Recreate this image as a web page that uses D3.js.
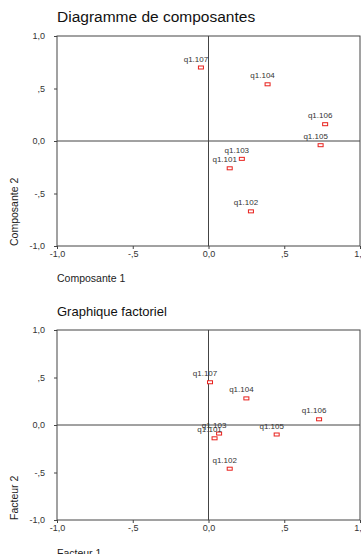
<!DOCTYPE html>
<html>
<head>
<meta charset="utf-8">
<script src="https://cdn.jsdelivr.net/npm/d3@7"></script>
<style>
  body { margin: 0; background: #fff; }
  svg { display: block; font-family: Arial, "Liberation Sans", sans-serif; }
</style>
</head>
<body>
<div id="chart"></div>
<script>
// variables (labels shared by both plots)
const items = ['q1.101', 'q1.102', 'q1.103', 'q1.104', 'q1.105', 'q1.106', 'q1.107'];

// Diagramme de composantes
const comp1 = [0.14, 0.28, 0.22, 0.39, 0.74, 0.77, -0.05];
const comp2 = [-0.26, -0.67, -0.17, 0.54, -0.04, 0.16, 0.70];

// Graphique factoriel
const fact1 = [0.04, 0.14, 0.07, 0.25, 0.45, 0.73, 0.01];
const fact2 = [-0.14, -0.46, -0.09, 0.28, -0.10, 0.06, 0.45];

const tickVals = [-1, -0.5, 0, 0.5, 1];

const W = 361, H = 554;
const svg = d3.select('#chart').append('svg')
    .attr('width', W)
    .attr('height', H);

// 1,0 / ,5 / 0,0 / -,5 / -1,0
const fmt = d => {
    if (d === 0) return '0,0';
    let s = d3.format('.1f')(d).replace('.', ',').replace('\u2212', '-');
    return Math.abs(d) < 1 ? s.replace('0,', ',') : s;
};

function drawPlot(cfg) {
    const g = svg.append('g');
    const x = d3.scaleLinear().domain([-1, 1]).range([57, 360]);
    const y = d3.scaleLinear().domain([-1, 1]).range([cfg.bottom, cfg.top]);

    g.append('text')
        .attr('x', 57).attr('y', cfg.titleY)
        .attr('font-size', cfg.titleSize)
        .attr('fill', '#111')
        .text(cfg.title);

    // frame
    g.append('rect')
        .attr('x', x(-1)).attr('y', y(1))
        .attr('width', x(1) - x(-1)).attr('height', y(-1) - y(1))
        .attr('fill', 'none').attr('stroke', '#444').attr('stroke-width', 1);

    // reference lines at 0
    g.append('line')
        .attr('x1', x(0)).attr('x2', x(0)).attr('y1', y(1)).attr('y2', y(-1))
        .attr('stroke', '#444');
    g.append('line')
        .attr('x1', x(-1)).attr('x2', x(1)).attr('y1', y(0)).attr('y2', y(0))
        .attr('stroke', '#444');

    const ax = g.append('g')
        .attr('transform', `translate(0,${y(-1)})`)
        .call(d3.axisBottom(x).tickValues(tickVals).tickFormat(fmt).tickSize(3).tickPadding(2));
    const ay = g.append('g')
        .attr('transform', `translate(${x(-1)},0)`)
        .call(d3.axisLeft(y).tickValues(tickVals).tickFormat(fmt).tickSize(3).tickPadding(9));
    [ax, ay].forEach(a => {
        a.select('.domain').remove();
        a.selectAll('line').attr('stroke', '#444');
        a.selectAll('text').attr('font-size', 9).attr('fill', '#333')
            .attr('font-family', 'Arial, "Liberation Sans", sans-serif');
    });

    g.append('text')
        .attr('x', 57).attr('y', cfg.xLabelY)
        .attr('font-size', 10.5).attr('fill', '#222')
        .text(cfg.xLabel);
    g.append('text')
        .attr('transform', `translate(18,${y(-1)}) rotate(-90)`)
        .attr('font-size', 10.5).attr('fill', '#222')
        .text(cfg.yLabel);

    const pts = items.map((name, i) => ({name: name, vx: cfg.xs[i], vy: cfg.ys[i]}));

    g.append('g').selectAll('rect')
        .data(pts)
        .enter()
        .append('rect')
        .attr('x', d => x(d.vx) - 2.5)
        .attr('y', d => y(d.vy) - 1.5)
        .attr('width', 5).attr('height', 3)
        .attr('fill', '#fff')
        .attr('stroke', '#e8201c')
        .attr('stroke-width', 1);

    g.append('g').selectAll('text')
        .data(pts)
        .enter()
        .append('text')
        .attr('x', d => x(d.vx) - 5)
        .attr('y', d => y(d.vy) - 6)
        .attr('text-anchor', 'middle')
        .attr('font-size', 8).attr('fill', '#333')
        .text(d => d.name);
}

drawPlot({
    title: 'Diagramme de composantes', titleY: 22, titleSize: 15.5,
    top: 36, bottom: 246,
    xLabel: 'Composante 1', xLabelY: 282,
    yLabel: 'Composante 2',
    xs: comp1, ys: comp2
});

drawPlot({
    title: 'Graphique factoriel', titleY: 316, titleSize: 13,
    top: 330, bottom: 520,
    xLabel: 'Facteur 1', xLabelY: 557,
    yLabel: 'Facteur 2',
    xs: fact1, ys: fact2
});
</script>
</body>
</html>
